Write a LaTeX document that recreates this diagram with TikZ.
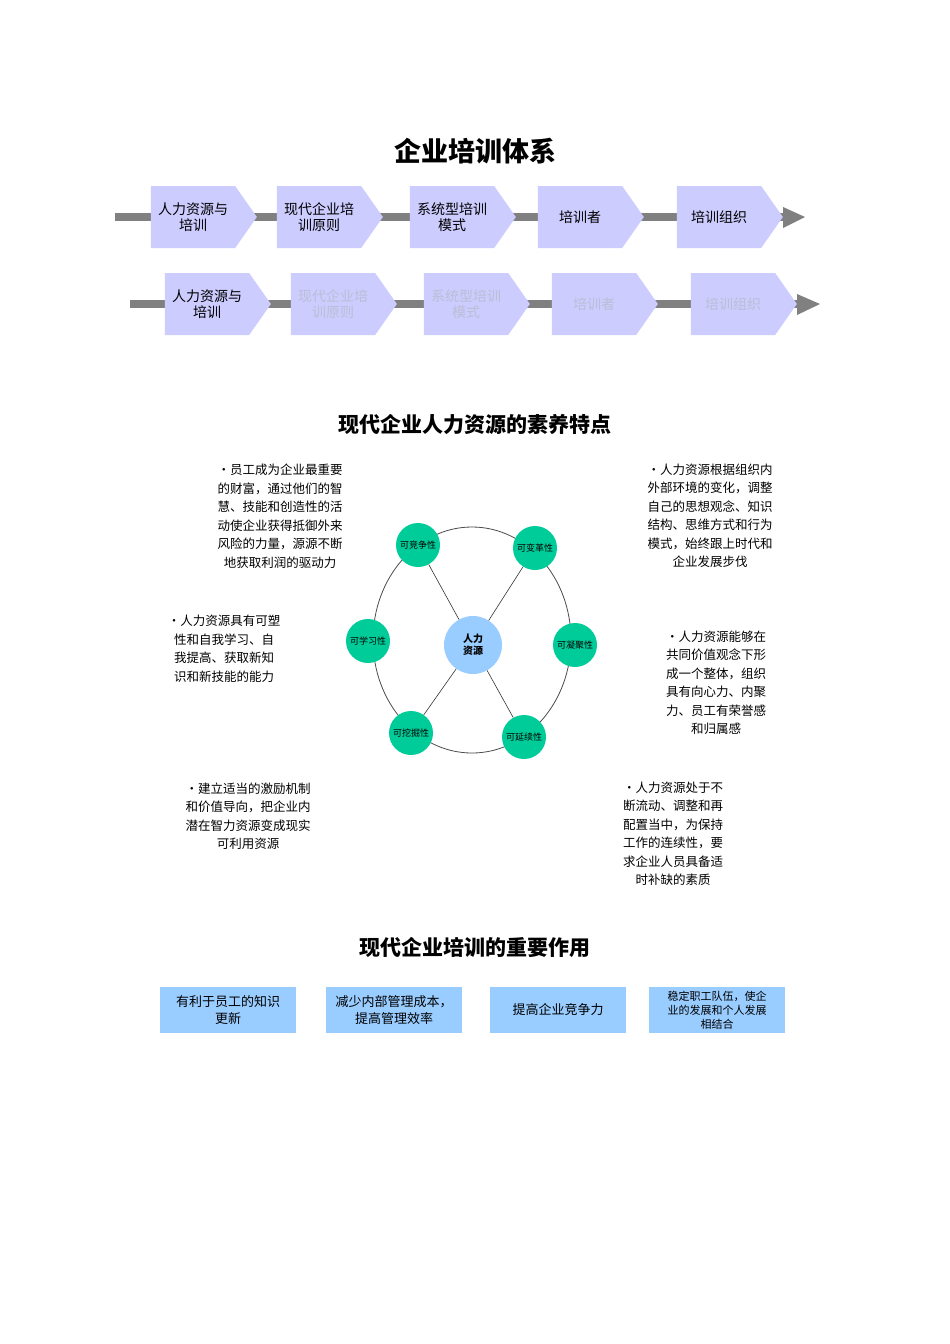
\documentclass[tikz,border=0pt]{standalone}
\usepackage{fontspec}
\setmainfont{Noto Sans CJK SC}
\usetikzlibrary{shapes.symbols,shapes.geometric,calc}
\definecolor{chev}{HTML}{CCCCFF}
\definecolor{bar}{HTML}{808080}
\definecolor{faded}{HTML}{BDBDD6}
\definecolor{sat}{HTML}{00CC99}
\definecolor{ctr}{HTML}{99CCFF}
\definecolor{bbox}{HTML}{99CCFF}
\tikzset{
 chevbox/.style={shape=signal, signal to=east, signal pointer angle=110, fill=chev, minimum width=106pt, minimum height=62pt, inner sep=0pt, align=center, font=\fontsize{14}{16}\selectfont, text width=80pt},
 fadedtxt/.style={text=faded},
 barline/.style={draw=bar, line width=8pt},
 satnode/.style={circle, fill=sat, minimum size=44pt, inner sep=0pt, font=\fontsize{9}{10}\selectfont},
 para/.style={align=center, font=\fontsize{12.5}{18.5}\selectfont},
 btmbox/.style={fill=bbox, minimum width=136pt, minimum height=46pt, align=center, inner sep=2pt, font=\fontsize{13}{17}\selectfont},
 ttl/.style={font=\bfseries\fontsize{21}{24}\selectfont}
}
\begin{document}
\begin{tikzpicture}[x=1pt,y=-1pt]
\useasboundingbox[fill=white] (0,0) rectangle (950,1344);
\node[font=\bfseries\fontsize{27}{30}\selectfont] (t1) at (475,151) {企业培训体系};
% row 1
\coordinate (s1) at (115,217);
\coordinate (e1) at (785,217);
\draw[barline] (s1) -- (e1);
\fill[bar] (783,207) -- (805,217) -- (783,228) -- cycle;
\node[chevbox] (a1) at (193,217) {人力资源与\\培训};
\node[chevbox] (a2) at (319,217) {现代企业培\\训原则};
\node[chevbox] (a3) at (452,217) {系统型培训\\模式};
\node[chevbox] (a4) at (580,217) {培训者};
\node[chevbox] (a5) at (719,217) {培训组织};
% row 2
\coordinate (s2) at (130,304);
\coordinate (e2) at (799,304);
\draw[barline] (s2) -- (e2);
\fill[bar] (797,294) -- (820,304) -- (797,315) -- cycle;
\node[chevbox] (b1) at (207,304) {人力资源与\\培训};
\node[chevbox,fadedtxt] (b2) at (333,304) {现代企业培\\训原则};
\node[chevbox,fadedtxt] (b3) at (466,304) {系统型培训\\模式};
\node[chevbox,fadedtxt] (b4) at (594,304) {培训者};
\node[chevbox,fadedtxt] (b5) at (733,304) {培训组织};
% section 2
\node[ttl] (t2) at (475,424) {现代企业人力资源的素养特点};
\node[draw=black!70, ellipse, minimum width=198pt, minimum height=226pt, line width=0.8pt] (ring) at (472,640) {};
\node[circle, fill=ctr, minimum size=58pt, inner sep=0pt, font=\bfseries\fontsize{10}{12}\selectfont, align=center] (c) at (473,645) {人力\\资源};
\node[satnode] (n1) at (418,545) {可竞争性};
\node[satnode] (n2) at (535,548) {可变革性};
\node[satnode] (n3) at (575,645) {可凝聚性};
\node[satnode] (n4) at (524,737) {可延续性};
\node[satnode] (n5) at (411,733) {可挖掘性};
\node[satnode] (n6) at (368,641) {可学习性};
\foreach \n in {n1,n2,n4,n5} \draw[black!80, line width=0.6pt] (c) -- (\n);
\node[para] (p1) at (280,516) {•员工成为企业最重要\\的财富，通过他们的智\\慧、技能和创造性的活\\动使企业获得抵御外来\\风险的力量，源源不断\\地获取利润的驱动力};
\node[para] (p2) at (710,516) {•人力资源根据组织内\\外部环境的变化，调整\\自己的思想观念、知识\\结构、思维方式和行为\\模式，始终跟上时代和\\企业发展步伐};
\node[para] (p3) at (224,649) {•人力资源具有可塑\\性和自我学习、自\\我提高、获取新知\\识和新技能的能力};
\node[para] (p4) at (716,683) {•人力资源能够在\\共同价值观念下形\\成一个整体，组织\\具有向心力、内聚\\力、员工有荣誉感\\和归属感};
\node[para] (p5) at (248,816) {•建立适当的激励机制\\和价值导向，把企业内\\潜在智力资源变成现实\\可利用资源};
\node[para] (p6) at (673,834) {•人力资源处于不\\断流动、调整和再\\配置当中，为保持\\工作的连续性，要\\求企业人员具备适\\时补缺的素质};
% section 3
\node[ttl] (t3) at (475,947) {现代企业培训的重要作用};
\node[btmbox] (d1) at (228,1010) {有利于员工的知识\\更新};
\node[btmbox] (d2) at (394,1010) {减少内部管理成本，\\提高管理效率};
\node[btmbox] (d3) at (558,1010) {提高企业竞争力};
\node[btmbox, font=\fontsize{11}{14}\selectfont] (d4) at (717,1010) {稳定职工队伍，使企\\业的发展和个人发展\\相结合};
\end{tikzpicture}
\end{document}
